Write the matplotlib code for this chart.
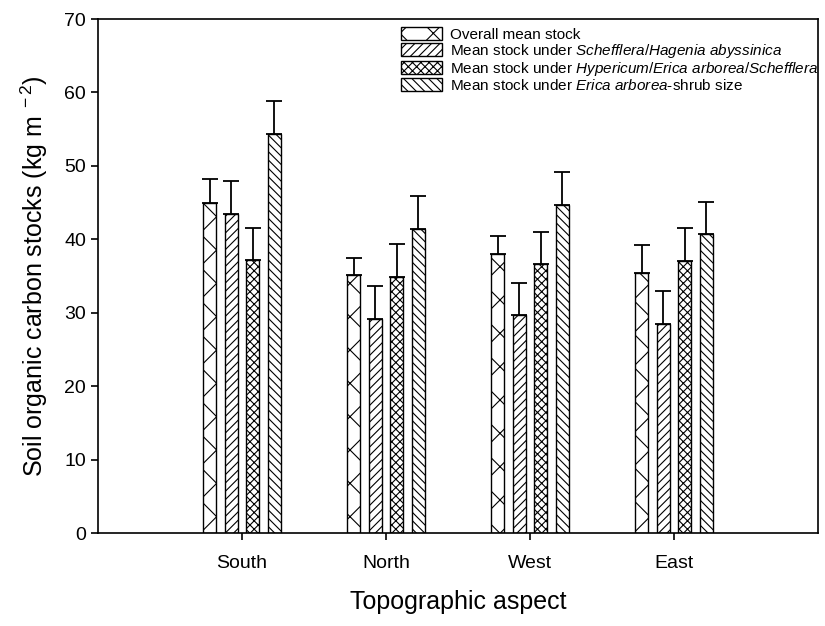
import matplotlib
matplotlib.use('Agg')

import matplotlib.pyplot as plt
import numpy as np
from matplotlib import rcParams

rcParams['font.family'] = 'Liberation Sans'
rcParams['mathtext.fontset'] = 'custom'
rcParams['mathtext.rm'] = 'Liberation Sans'
rcParams['mathtext.it'] = 'Liberation Sans:italic'
rcParams['hatch.linewidth'] = 0.8

# data
aspects = ['South', 'North', 'West', 'East']
overall_mean = [45.0, 35.1, 38.0, 35.4]
overall_err = [3.2, 2.3, 2.4, 3.8]
schefflera_hagenia = [43.4, 29.2, 29.7, 28.5]
schefflera_hagenia_err = [4.5, 4.4, 4.4, 4.4]
hypericum_erica = [37.2, 34.8, 36.6, 37.0]
hypericum_erica_err = [4.4, 4.5, 4.4, 4.5]
erica_shrub = [54.3, 41.4, 44.7, 40.7]
erica_shrub_err = [4.5, 4.5, 4.5, 4.4]

series_labels = [
    'Overall mean stock',
    r'Mean stock under $\it{Schefflera/Hagenia\ abyssinica}$',
    r'Mean stock under $\it{Hypericum/Erica\ arborea/Schefflera}$',
    r'Mean stock under $\it{Erica\ arborea}$-shrub size',
]

series = [overall_mean, schefflera_hagenia, hypericum_erica, erica_shrub]
errors = [overall_err, schefflera_hagenia_err, hypericum_erica_err, erica_shrub_err]
hatches = ['x', '////', 'xxxx', '\\\\\\\\']

fig = plt.figure(figsize=(8.25, 6.26), dpi=100)
# axes box: x 98..818 px, y 19..533 px
ax = fig.add_axes([98 / 825, 1 - 533 / 626, 720 / 825, 514 / 626])

x = np.arange(1, len(aspects) + 1)
width = 0.092
offsets = [-0.225, -0.075, 0.075, 0.225]

for vals, errs, hatch, label, off in zip(series, errors, hatches, series_labels, offsets):
    ax.bar(x + off, vals, width, color='white', edgecolor='black', linewidth=1.0,
           hatch=hatch, label=label)
    ax.errorbar(x + off, vals, yerr=[np.zeros(len(errs)), errs], fmt='none',
                ecolor='black', elinewidth=1.3, capsize=6, capthick=1.3)

ax.set_xlim(0, 5)
ax.set_ylim(0, 70)
ax.set_yticks(np.arange(0, 71, 10))
ax.set_xticks(x)
ax.set_xticklabels(aspects)
ax.tick_params(axis='both', direction='out', length=5, width=1.2, labelsize=14)
ax.tick_params(axis='x', pad=11)
for sp in ax.spines.values():
    sp.set_linewidth(1.2)

ax.set_xlabel('Topographic aspect', fontsize=18, labelpad=13)
ax.set_ylabel(r'Soil organic carbon stocks (kg m$^{\ -2}$)', fontsize=18, labelpad=10)

ax.legend(loc='upper right', bbox_to_anchor=(1.012, 1.0), frameon=False,
          fontsize=11, handlelength=2.7, handleheight=0.9, labelspacing=0.0,
          handletextpad=0.5, borderaxespad=0.15)

fig.savefig('out.png', dpi=100)
